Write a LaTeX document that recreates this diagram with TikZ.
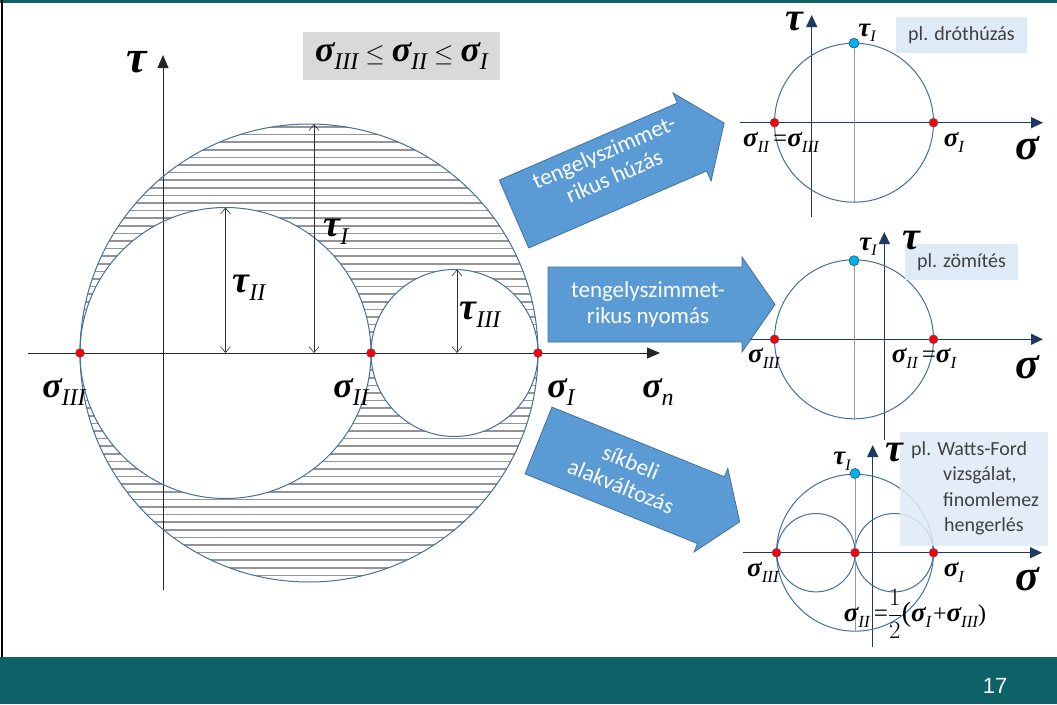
\documentclass[tikz,border=0pt]{standalone}
\usepackage{fontspec}
\setmainfont{Liberation Serif}
\newfontfamily\calib{Carlito}
\newfontfamily\arialf{Liberation Sans}
\usetikzlibrary{arrows.meta}
\definecolor{bandcol}{HTML}{0E6166}
\definecolor{circcol}{HTML}{41719C}
\definecolor{axnavy}{HTML}{1F3864}
\definecolor{arrfill}{HTML}{5B9BD5}
\definecolor{arrdraw}{HTML}{41719C}
\definecolor{boxblue}{HTML}{DEEBF7}
\definecolor{dotblue}{HTML}{00B0F0}
\newcommand\gs[4]{{\fontsize{#1}{#1}\selectfont\bfseries\itshape #2}{\fontsize{#3}{#3}\selectfont\itshape\raisebox{-0.35em}{#4}}}
\newcommand\gl[2]{{\fontsize{#1}{#1}\selectfont\bfseries\itshape #2}}
\newcommand\eqs[1]{{\fontsize{#1}{#1}\selectfont\,=}}
\newcommand\leqs{\hspace{7pt}{\fontsize{30}{30}\selectfont$\leq$}\hspace{7pt}}
\tikzset{
  circ/.style={draw=circcol, line width=1pt},
  mainax/.style={draw=black!85, line width=0.8pt, -{Triangle[length=13pt,width=11pt]}},
  nax/.style={draw=axnavy, line width=1.4pt, -{Triangle[length=12pt,width=11pt]}},
  dimln/.style={black!80, line width=0.6pt, {Straight Barb[length=6pt,width=10pt]}-{Straight Barb[length=6pt,width=10pt]}},
  rdot/.style={circle, fill=red, draw=circcol, line width=0.5pt, inner sep=0pt, minimum size=9pt},
  bdot/.style={circle, fill=dotblue, draw=circcol!70!black, line width=0.6pt, inner sep=0pt, minimum size=10pt},
  bigarrow/.style={fill=arrfill, draw=arrdraw, line width=0.8pt},
  atext/.style={text=white, font=\calib\fontsize{23}{26}\selectfont, align=center, inner sep=0pt},
  lboxt/.style={text=black!75, font=\calib\fontsize{20}{25.5}\selectfont, inner sep=0pt},
  lbl/.style={inner sep=0pt},
  hatch/.style={draw=black!42, line width=1.7pt},
  midln/.style={draw=black!40, line width=0.8pt},
}
\begin{document}
\begin{tikzpicture}[x=1pt,y=-1pt]
\useasboundingbox (0,0) rectangle (1057,704);
\fill[white] (0,0) rectangle (1057,704);
\fill[bandcol] (0,0) rectangle (1057,3);
\fill[bandcol] (0,657) rectangle (1057,704);
\draw[black, line width=1.3pt] (2,0) -- (2,657);
\node[text=white, font=\arialf\fontsize{22}{22}\selectfont] (pg) at (995,686) {17};

% ---------- main Mohr diagram ----------
\begin{scope}
  \clip (309,353) circle[radius=229pt];
  \foreach \k in {0,...,61} \draw[hatch] (75,{127+\k*7.6}) -- (545,{127+\k*7.6});
\end{scope}
\fill[white] (225.5,353) circle[radius=145.5pt];
\fill[white] (454.5,353) circle[radius=83.5pt];
\coordinate (hs) at (28,353);
\coordinate (he) at (660,353);
\coordinate (vs) at (163,590);
\coordinate (ve) at (163,55);
\draw[mainax] (hs) -- (he);
\draw[mainax] (vs) -- (ve);
\draw[circ] (309,353) circle[radius=229pt];
\draw[circ] (225.5,353) circle[radius=145.5pt];
\draw[circ] (454.5,353) circle[radius=83.5pt];

\coordinate (d2a) at (225.5,353); \coordinate (d2b) at (225.5,207.5);
\coordinate (d1a) at (314,353);   \coordinate (d1b) at (314,124.1);
\coordinate (d3a) at (457,353);   \coordinate (d3b) at (457,269.5);
\draw[dimln] (d2a) -- (d2b);
\draw[dimln] (d1a) -- (d1b);
\draw[dimln] (d3a) -- (d3b);

\node[rdot] (s3) at (80,353) {};
\node[rdot] (s2) at (371,353) {};
\node[rdot] (s1) at (538,353) {};

\node[lbl] (ltau) at (137,62) {\gl{46}{τ}};
\node[lbl] (lt1) at (336,232) {\gs{38}{τ}{24}{I}};
\node[lbl] (lt2) at (249,288) {\gs{38}{τ}{24}{II}};
\node[lbl] (lt3) at (480,315) {\gs{38}{τ}{24}{III}};
\node[lbl] (ls3) at (64,392) {\gs{36}{σ}{24}{III}};
\node[lbl] (ls2) at (351,392) {\gs{36}{σ}{24}{II}};
\node[lbl] (ls1) at (561,392) {\gs{36}{σ}{24}{I}};
\node[lbl] (lsn) at (658,392) {\gs{36}{σ}{24}{n}};

\node[fill=black!15, minimum width=197pt, minimum height=48pt, inner sep=0pt] (rel) at (401.5,56)
  {\gs{36}{σ}{24}{III}\leqs\gs{36}{σ}{24}{II}\leqs\gs{36}{σ}{24}{I}};

% ---------- diagram 1 ----------
\coordinate (a1s) at (740,122.7); \coordinate (a1e) at (1043,122.7);
\coordinate (b1s) at (811.7,217); \coordinate (b1e) at (811.7,15);
\draw[nax] (a1s) -- (a1e);
\draw[nax] (b1s) -- (b1e);
\draw[circ] (854,122.7) circle[radius=79.5pt];
\node[bdot] (t1) at (854,43.2) {};
\coordinate (t1b) at (854,202.2);
\draw[midln] (t1) -- (t1b);
\node[rdot] (p1a) at (774.5,122.7) {};
\node[rdot] (p1b) at (933.5,122.7) {};
\node[fill=boxblue, minimum width=131pt, minimum height=36pt, inner sep=0pt] (box1) at (961.5,35) {};
\node[lboxt] (box1t) at (961.5,35) {pl. dróthúzás};
\node[lbl] (l1tau) at (794,22) {\gl{40}{τ}};
\node[lbl] (l1t) at (867,33) {\gs{27}{τ}{16}{I}};
\node[lbl] (l1s) at (781,142) {\gs{27}{σ}{17}{II}\eqs{25}\gs{27}{σ}{17}{III}};
\node[lbl] (l1s1) at (954,142) {\gs{27}{σ}{17}{I}};
\node[lbl] (l1sig) at (1027,148) {\gl{44}{σ}};

% ---------- diagram 2 ----------
\coordinate (a2s) at (748,339.3); \coordinate (a2e) at (1043,339.3);
\coordinate (b2s) at (884.3,440); \coordinate (b2e) at (884.3,232);
\draw[nax] (a2s) -- (a2e);
\draw[nax] (b2s) -- (b2e);
\draw[circ] (854,339.3) circle[radius=79.5pt];
\node[bdot] (t2) at (854,260.7) {};
\coordinate (t2b) at (854,419.5);
\draw[midln] (t2) -- (t2b);
\node[rdot] (p2a) at (774.5,339.3) {};
\node[rdot] (p2b) at (933.5,339.3) {};
\node[fill=boxblue, minimum width=113pt, minimum height=36pt, inner sep=0pt] (box2) at (961.5,262) {};
\node[lboxt] (box2t) at (961.5,262) {pl. zömítés};
\node[lbl] (l2tau) at (911,241) {\gl{40}{τ}};
\node[lbl] (l2t) at (868,247) {\gs{27}{τ}{16}{I}};
\node[lbl] (l2s3) at (764,358) {\gs{27}{σ}{17}{III}};
\node[lbl] (l2s1) at (924,358) {\gs{27}{σ}{17}{II}\eqs{25}\gs{27}{σ}{17}{I}};
\node[lbl] (l2sig) at (1027,367) {\gl{44}{σ}};

% ---------- diagram 3 ----------
\coordinate (a3s) at (743,552.7); \coordinate (a3e) at (1042,552.7);
\coordinate (b3s) at (872.7,647); \coordinate (b3e) at (872.7,445);
\draw[nax] (a3s) -- (a3e);
\draw[nax] (b3s) -- (b3e);
\draw[circ] (855,552.7) circle[radius=78.5pt];
\draw[circ] (816,552.7) circle[radius=39.2pt];
\draw[circ] (894,552.7) circle[radius=39.2pt];
\node[bdot] (t3) at (855,473.5) {};
\coordinate (t3b) at (855,632);
\draw[midln] (t3) -- (t3b);
\node[rdot] (p3a) at (776.5,552.7) {};
\node[rdot] (p3b) at (855,552.7) {};
\node[rdot] (p3c) at (933.5,552.7) {};
\node[fill=boxblue, fill opacity=0.85, minimum width=148pt, minimum height=114pt, inner sep=0pt] (box3) at (974,489) {};
\node[lboxt, anchor=north west, align=left] (box3t) at (911,441)
  {pl. Watts-Ford\\\hspace*{32pt}vizsgálat,\\\hspace*{32pt}finomlemez\\\hspace*{33pt}hengerlés};
\node[lbl] (l3tau) at (894,453) {\gl{40}{τ}};
\node[lbl] (l3t) at (842,461) {\gs{27}{τ}{16}{I}};
\node[lbl] (l3s3) at (763,572) {\gs{27}{σ}{17}{III}};
\node[lbl] (l3s1) at (954,572) {\gs{27}{σ}{17}{I}};
\node[lbl] (l3sig) at (1027,579) {\gl{44}{σ}};
\node[lbl] (l3f) at (915,614) {\gs{27}{σ}{17}{II}\eqs{25}{\fontsize{28}{28}\selectfont$\displaystyle\frac{1}{2}$(}\gs{27}{σ}{17}{I}\,{\fontsize{24}{24}\selectfont+}\gs{27}{σ}{17}{III}{\fontsize{24}{24}\selectfont)}};

% ---------- block arrows ----------
\begin{scope}[shift={(514,214)}, rotate=23.4]
  \draw[bigarrow] (0,-37) -- (194,-37) -- (194,-48) -- (229,0) -- (194,48) -- (194,37) -- (0,37) -- cycle;
\end{scope}
\node[atext, rotate=23.4] (ar1) at (609,164) {tengelyszimmet-\\rikus húzás};

\draw[bigarrow] (548,267) -- (742,267) -- (742,257) -- (775,304.5) -- (742,352) -- (742,342) -- (548,342) -- cycle;
\node[atext] (ar2) at (648,304) {tengelyszimmet-\\rikus nyomás};

\begin{scope}[shift={(538.5,440.5)}, rotate=-22]
  \draw[bigarrow] (0,-36) -- (186,-36) -- (186,-45) -- (217,0) -- (186,45) -- (186,36) -- (0,36) -- cycle;
\end{scope}
\node[atext, rotate=-22] (ar3) at (626,474) {síkbeli\\alakváltozás};
\end{tikzpicture}
\end{document}
